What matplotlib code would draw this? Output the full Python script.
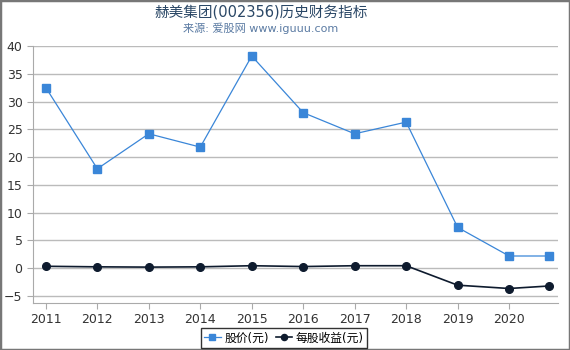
import matplotlib.pyplot as plt
import matplotlib.patches as patches

plt.rcParams['font.family'] = ['DejaVu Sans', 'Noto Sans CJK SC']

# x positions in years (last point is a partial year)
years = [2011, 2012, 2013, 2014, 2015, 2016, 2017, 2018, 2019, 2020, 2020.77]
price = [32.5, 17.9, 24.2, 21.8, 38.2, 28.0, 24.2, 26.3, 7.35, 2.2, 2.2]
eps = [0.35, 0.25, 0.2, 0.25, 0.45, 0.3, 0.45, 0.45, -3.05, -3.65, -3.2]
year_ticks = [2011, 2012, 2013, 2014, 2015, 2016, 2017, 2018, 2019, 2020]
y_ticks = [-5, 0, 5, 10, 15, 20, 25, 30, 35, 40]

fig = plt.figure(figsize=(5.7, 3.5), dpi=100)
ax = fig.add_axes([33 / 570, 47 / 350, 525 / 570, 257 / 350])

ax.plot(years, price, color='#3a86d8', lw=0.9, marker='s', ms=5.5,
        label='股价(元)', zorder=3)
ax.plot(years, eps, color='#0e1b2e', lw=1.2, marker='o', ms=5.5,
        label='每股收益(元)', zorder=3)

ax.set_xlim(2010.75, 2020.95)
ax.set_ylim(-6.26, 40)
ax.set_xticks(year_ticks)
ax.set_xticklabels([str(y) for y in year_ticks])
ax.set_yticks(y_ticks)
ax.grid(axis='y', color='#bbbbbb', lw=1)
ax.set_axisbelow(True)
for s in ['top', 'right']:
    ax.spines[s].set_visible(False)
for s in ['left', 'bottom']:
    ax.spines[s].set_color('#aaaaaa')
ax.tick_params(colors='#aaaaaa', labelcolor='#333333', labelsize=9, length=4)

fig.text(0.458, 0.965, '赫美集团(002356)历史财务指标', ha='center', va='center',
         fontsize=10.5, color='#2a4766')
fig.text(0.458, 0.918, '来源: 爱股网 www.iguuu.com', ha='center', va='center',
         fontsize=8, color='#5b7ba3')

leg = fig.legend(loc='center', bbox_to_anchor=(284 / 570, 1 - 338 / 350),
                 ncol=2, fontsize=8.5, frameon=True, fancybox=False,
                 handlelength=1.4, handletextpad=0.3, columnspacing=0.6,
                 borderpad=0.3, markerscale=0.8)
leg.get_frame().set_edgecolor('black')
leg.get_frame().set_linewidth(1)

fig.patches.append(patches.Rectangle((0, 0), 1, 1, transform=fig.transFigure,
                                     fill=False, edgecolor='#777777', lw=2.5))

fig.savefig('out.png', dpi=100)
